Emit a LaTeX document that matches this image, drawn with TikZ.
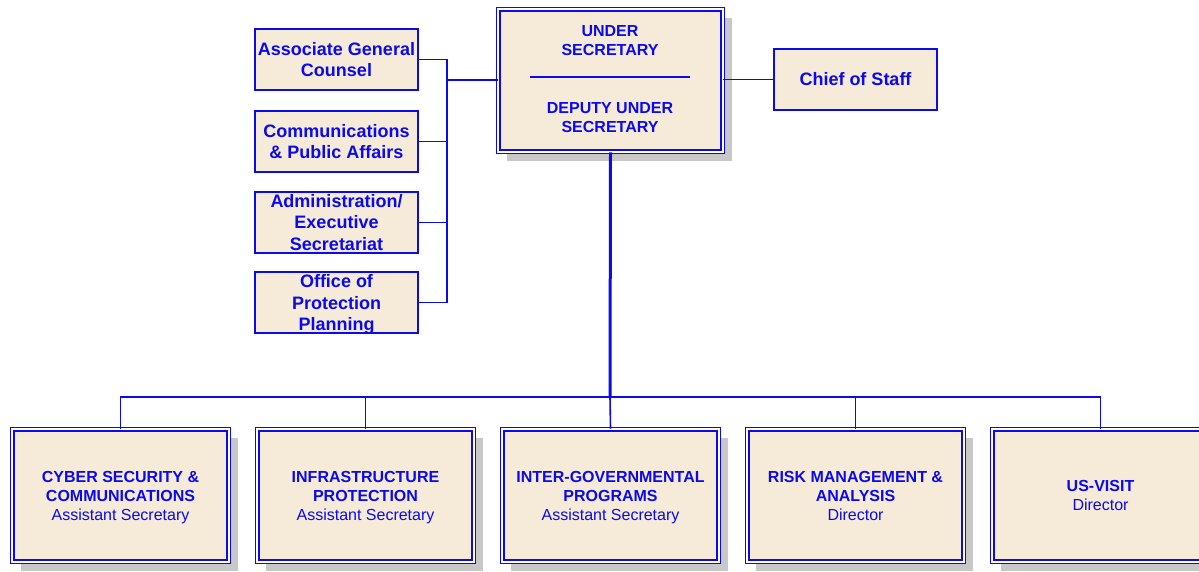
\documentclass[tikz,border=0pt]{standalone}
\usepackage{fontspec}
\setmainfont{Liberation Sans}
\usetikzlibrary{shadows}
\definecolor{ublue}{RGB}{10,10,235}
\definecolor{ubeige}{RGB}{246,235,217}
\definecolor{ushadow}{RGB}{200,200,200}
\tikzset{
  boxA/.style={draw=ublue, line width=1.6pt, fill=ubeige, minimum width=163pt, minimum height=61pt, inner sep=0pt},
  boxB/.style={draw=ublue, line width=1.4pt, double=white, double distance=2.1pt, fill=ubeige,
    drop shadow={shadow xshift=9pt, shadow yshift=-9pt, fill=ushadow, opacity=1}, inner sep=0pt},
  bigtxt/.style={text=ublue, font=\fontsize{18}{21.8}\selectfont\bfseries, align=center},
  smtxt/.style={text=ublue, font=\fontsize{16}{19}\selectfont, align=center},
  conn/.style={draw=ublue, line width=1.6pt},
  thickconn/.style={draw=ublue, line width=3pt}
}
\begin{document}
\begin{tikzpicture}[x=1pt,y=-1pt]
\useasboundingbox (0,0) rectangle (1199,572);
% top box
\node[boxB, minimum width=224.5pt, minimum height=142.5pt] (us) at (610.5,80.5) {};
\node[smtxt, font=\fontsize{16}{19}\selectfont\bfseries] (ust) at (610,41) {UNDER\\SECRETARY};
\node[smtxt, font=\fontsize{16}{19}\selectfont\bfseries] (dus) at (610,118) {DEPUTY UNDER\\SECRETARY};
\coordinate (rl) at (530,77);
\coordinate (rr) at (690,77);
\draw[ublue, line width=1.5pt] (rl) -- (rr);
% left boxes
\node[boxA, bigtxt] (agc) at (336.5,59.5) {Associate General\\Counsel};
\node[boxA, bigtxt] (cpa) at (336.5,141.5) {Communications\\\& Public Affairs};
\node[boxA, bigtxt] (aes) at (336.5,222.5) {Administration/\\Executive\\Secretariat};
\node[boxA, bigtxt, text depth=0pt] (opp) at (336.5,302.5) {Office of\\Protection\\Planning};
% chief of staff
\node[boxA, bigtxt] (cos) at (855.5,79.5) {Chief of Staff};
% bottom boxes
\node[boxB, minimum width=216.5pt, minimum height=132.5pt, smtxt, text depth=0pt] (b1) at (120.5,495.5) {\textbf{CYBER SECURITY \&}\\\textbf{COMMUNICATIONS}\\Assistant Secretary};
\node[boxB, minimum width=216.5pt, minimum height=132.5pt, smtxt, text depth=0pt] (b2) at (365.5,495.5) {\textbf{INFRASTRUCTURE}\\\textbf{PROTECTION}\\Assistant Secretary};
\node[boxB, minimum width=216.5pt, minimum height=132.5pt, smtxt, text depth=0pt] (b3) at (610.5,495.5) {\textbf{INTER-GOVERNMENTAL}\\\textbf{PROGRAMS}\\Assistant Secretary};
\node[boxB, minimum width=216.5pt, minimum height=132.5pt, smtxt] (b4) at (855.5,495.5) {\textbf{RISK MANAGEMENT \&}\\\textbf{ANALYSIS}\\Director};
\node[boxB, minimum width=216.5pt, minimum height=132.5pt, smtxt] (b5) at (1100.5,495.5) {\textbf{US-VISIT}\\Director};
% left connectors
\coordinate (lbus) at (447,80);
\draw[conn] (agc.east) -| (lbus);
\draw[conn] (opp.east) -| (lbus);
\draw[conn] (cpa.east) -- (cpa.east -| lbus);
\draw[conn] (aes.east) -- (aes.east -| lbus);
\draw[conn, line width=2.2pt] (lbus) -- (us.west |- lbus);
% chief of staff connector
\draw[conn] (us.east |- cos.west) -- (cos.west);
% bottom connectors
\coordinate (bbus) at (610,397);
\draw[thickconn] (us.south) -- (bbus);
\draw[conn] (b1.north) -- (b1.north |- bbus) -- (b5.north |- bbus) -- (b5.north);
\draw[conn] (b2.north) -- (b2.north |- bbus);
\draw[conn] (b3.north) -- (bbus);
\draw[conn] (b4.north) -- (b4.north |- bbus);
\end{tikzpicture}
\end{document}
